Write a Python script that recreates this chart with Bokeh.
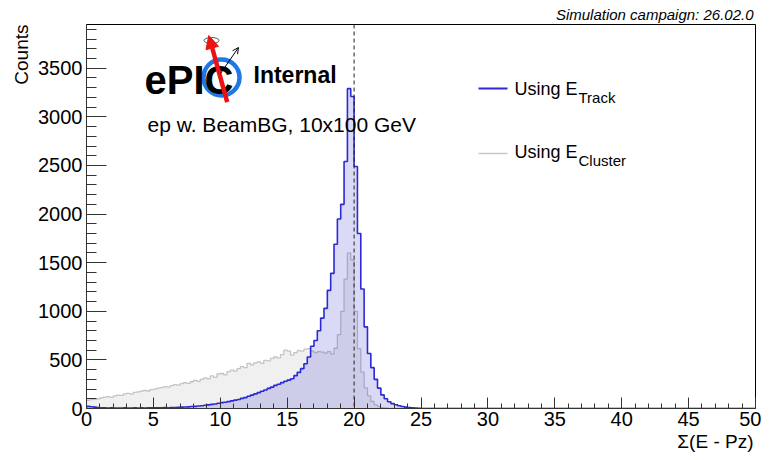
import numpy as np
from bokeh.plotting import figure
from bokeh.models import Label, Span, Arrow, NormalHead, OpenHead, FixedTicker, Title
from bokeh.embed import file_html
from bokeh.resources import INLINE

FONT = "Liberation Sans"

# ---- data ----
bin_width = 0.25
x_min, x_max = 0.0, 50.0
y_max = 3950

# Sigma(E - Pz) using E_Track, bins of 0.25 from 0 to 25
track_counts = [
    22, 18, 14, 10, 8, 7, 5, 6, 4, 5, 4, 6, 5, 4, 6, 5, 6, 5, 7, 6,
    7, 8, 7, 9, 8, 10, 11, 12, 14, 16, 17, 20, 22, 25, 29, 33, 37, 42, 47, 54,
    60, 64, 71, 78, 86, 93, 104, 112, 126, 138, 150, 163, 178, 190, 207, 220, 238, 250, 266, 280,
    292, 306, 338, 372, 410, 460, 530, 640, 700, 800, 930, 1030, 1215, 1390, 1690, 1950, 2100, 2540, 3290, 3210,
    2490, 1800, 1230, 840, 565, 420, 300, 210, 140, 100, 70, 50, 38, 28, 20, 14, 10, 6, 4, 2,
]
# Sigma(E - Pz) using E_Cluster, bins of 0.25 from 0 to 25
cluster_counts = [
    85, 92, 95, 100, 110, 118, 122, 115, 130, 138, 135, 150, 155, 148, 165, 170, 178, 185, 180, 195,
    200, 210, 215, 225, 220, 235, 245, 240, 255, 265, 258, 275, 290, 280, 300, 315, 305, 335, 320, 355,
    360, 345, 380, 395, 385, 410, 430, 420, 465, 450, 470, 480, 465, 495, 490, 515, 530, 520, 555, 600,
    590, 550, 575, 595, 590, 610, 615, 590, 575, 585, 580, 570, 585, 560, 620, 760, 1000, 1330, 1600, 1530,
    1000, 615, 375, 212, 130, 72, 38, 20, 10, 5, 2, 1, 0, 0, 0, 0, 0, 0, 0, 0,
]
empty_tail = [0] * 100  # bins 25-50 are empty

x_ticks = [0, 5, 10, 15, 20, 25, 30, 35, 40, 45, 50]
y_ticks = [0, 500, 1000, 1500, 2000, 2500, 3000, 3500]
beam_energy_line = 20

track = np.array(track_counts + empty_tail, dtype=float)
cluster = np.array(cluster_counts + empty_tail, dtype=float)
edges = x_min + bin_width * np.arange(len(track) + 1)


def step_path(counts):
    xs = np.repeat(edges, 2)
    ys = np.concatenate([[0], np.repeat(counts, 2), [0]])
    return xs, ys


FL, FT, FR, FB = 86, 24, 755, 408   # frame edges in the picture
W, H = 761, 452

p = figure(width=W, height=H, x_range=(x_min, x_max), y_range=(0, y_max),
           output_backend="svg", toolbar_location=None,
           min_border_left=FL, min_border_right=W - FR, min_border_top=FT, min_border_bottom=H - FB)
p.xgrid.visible = False
p.ygrid.visible = False
p.outline_line_color = "black"
p.outline_line_width = 1
p.background_fill_color = "white"
p.border_fill_color = "white"

# cluster histogram (light grey)
cx, cy = step_path(cluster)
p.patch(cx, cy, fill_color="#f0f0f0", line_color=None)
p.line(cx, cy, line_color="#c4c4c4", line_width=1.3)

# track histogram (blue)
tx, ty = step_path(track)
p.patch(tx, ty, fill_color="#3333cc", fill_alpha=0.18, line_color=None)
p.line(tx, ty, line_color="#2a2ad6", line_width=1.6)

p.add_layout(Span(location=beam_energy_line, dimension="height", line_color="#222222",
                  line_dash="4 3", line_width=1))

# axes
for ax, ticks, minor, tin, mtin in (
        (p.xaxis, x_ticks, [v for v in range(0, 51) if v % 5], 11, 5),
        (p.yaxis, y_ticks, [v for v in range(0, 3901, 100) if v % 500], 20, 10)):
    ax.ticker = FixedTicker(ticks=ticks, minor_ticks=minor)
    ax.major_tick_in = tin
    ax.major_tick_out = 0
    ax.minor_tick_in = mtin
    ax.minor_tick_out = 0
    ax.axis_line_color = "#333333"
    ax.major_tick_line_color = "#333333"
    ax.minor_tick_line_color = "#333333"
    ax.major_label_text_font = FONT
    ax.major_label_text_color = "black"
    ax.major_label_text_font_size = "20px"
p.xaxis.major_label_standoff = 3
p.yaxis.major_label_standoff = 4

# titles around the frame
p.title.text = "Simulation campaign: 26.02.0"
p.title.align = "right"
p.title.text_font = FONT
p.title.text_font_size = "15px"
p.title.text_font_style = "italic"
p.title.text_color = "black"
p.title.standoff = 3
p.title.offset = 2

p.add_layout(Title(text="Σ(E - Pz)", align="right", text_font=FONT, text_font_size="19px",
                   text_font_style="normal", text_color="black", standoff=1, offset=2), "below")
p.add_layout(Title(text="Counts", align="right", text_font=FONT, text_font_size="19px",
                   text_font_style="normal", text_color="black", standoff=8), "left")


def px_to_data(px, py):
    # helper for placing decorations at picture positions inside the frame
    return (px - FL) / (FR - FL) * (x_max - x_min), (FB - py) / (FB - FT) * y_max


def add_label(text, px, py, size, align="left", baseline="middle", style="normal", color="black"):
    x, y = px_to_data(px, py)
    p.add_layout(Label(x=x, y=y, text=text, text_font=FONT, text_font_size=size,
                       text_align=align, text_baseline=baseline, text_font_style=style,
                       text_color=color))


# ePIC logo
rx, ry = px_to_data(221, 77)
p.scatter([rx], [ry], marker="circle", size=36, fill_color=None,
          line_color="#1f78e6", line_width=4.5)
add_label("ePIC", 144, 79, "40px", style="bold")
ex, ey = px_to_data(211, 40)
p.ellipse([ex], [ey], width=15, height=6, width_units="screen", height_units="screen",
          fill_color=None, line_color="#555555", line_width=1)
sx, sy = px_to_data(226.7, 101.7)
tx2, ty2 = px_to_data(208.3, 35)
p.add_layout(Arrow(end=NormalHead(size=13, fill_color="#ee1111", line_color="#ee1111"),
                   x_start=sx, y_start=sy, x_end=tx2, y_end=ty2,
                   line_color="#ee1111", line_width=4.5))
bx, by = px_to_data(220, 73)
bx2, by2 = px_to_data(238, 47)
p.add_layout(Arrow(end=OpenHead(size=6, line_color="black", line_width=1),
                   x_start=bx, y_start=by, x_end=bx2, y_end=by2,
                   line_color="black", line_width=1))
add_label("Internal", 253, 74, "23px", style="bold")
add_label("ep w. BeamBG, 10x100 GeV", 147, 124, "21px")

# legend
l1x0, l1y = px_to_data(478, 88)
l1x1, _ = px_to_data(507, 88)
p.line([l1x0, l1x1], [l1y, l1y], line_color="#2a2ad6", line_width=2)
add_label("Using E", 514, 88, "18px")
add_label("Track", 578, 97, "15px")
l2x0, l2y = px_to_data(478, 153)
l2x1, _ = px_to_data(507, 153)
p.line([l2x0, l2x1], [l2y, l2y], line_color="#c8c8c8", line_width=1.5)
add_label("Using E", 514, 151, "18px")
add_label("Cluster", 578, 160, "15px")

open("out.html", "w").write(file_html(p, INLINE))
